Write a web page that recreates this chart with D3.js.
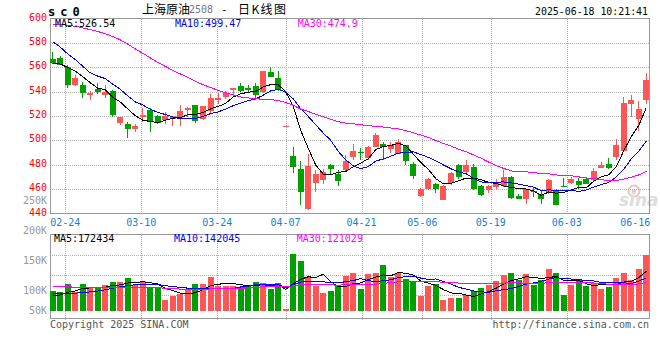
<!DOCTYPE html>
<html><head><meta charset="utf-8">
<script src="https://cdn.jsdelivr.net/npm/d3@7"></script>
<style>body{margin:0;background:#fff}svg{display:block}</style>
</head><body><svg id="c" width="660" height="360"></svg>
<script>
// ---------- data ----------
const dates = ["02-20","02-21","02-24","02-25","02-26","02-27","02-28",
"03-03","03-04","03-05","03-06","03-07","03-10","03-11","03-12","03-13","03-14","03-17","03-18","03-19","03-20","03-21","03-24","03-25","03-26","03-27","03-28","03-31",
"04-01","04-02","04-03","04-07","04-08","04-09","04-10","04-11","04-14","04-15","04-16","04-17","04-18","04-21","04-22","04-23","04-24","04-25","04-28","04-29","04-30",
"05-06","05-07","05-08","05-09","05-12","05-13","05-14","05-15","05-16","05-19","05-20","05-21","05-22","05-23","05-26","05-27","05-28","05-29","05-30",
"06-03","06-04","06-05","06-06","06-09","06-10","06-11","06-12","06-13","06-16","06-17","06-18"];
const open  = [566.7,567.5,560.5,545.5,545.5,537.0,541.8,537.5,540.7,514.4,513.3,509.5,518.8,524.8,519.8,516.6,517.6,517.6,525.0,529.0,
517.2,524.0,533.0,535.2,541.2,544.5,542.6,544.5,540.0,556.1,551.4,511.6,487.0,476.9,443.5,465.2,467.4,479.6,472.3,475.5,
486.5,490.1,485.7,494.7,496.7,492.8,489.0,496.0,480.5,454.5,460.0,464.6,450.9,465.2,480.2,473.7,478.3,462.4,459.1,462.0,
462.7,470.0,454.4,451.5,458.5,456.0,457.0,459.0,462.6,465.1,466.5,467.9,467.4,477.5,481.0,486.0,491.2,529.8,517.5,533.0];
const high  = [572.2,569.2,562.0,553.3,547.8,540.2,546.8,545.4,541.2,519.5,515.0,513.3,526.2,526.2,520.7,523.0,520.0,528.9,527.0,529.2,
528.2,538.0,538.5,540.7,543.2,546.7,545.4,546.7,557.0,559.9,557.1,511.6,494.7,483.2,489.2,476.0,476.9,481.0,475.6,487.8,
496.7,493.9,495.3,505.7,498.8,498.8,500.8,496.5,482.4,461.0,469.2,465.0,463.3,473.7,481.0,484.0,480.5,463.2,463.0,468.7,
476.0,470.5,456.4,460.0,462.0,459.1,468.4,459.7,469.2,470.1,469.2,470.1,477.5,482.1,485.7,501.0,535.3,537.2,532.2,555.0];
const low   = [562.5,561.5,543.2,544.8,535.0,533.1,538.0,535.0,519.4,512.5,501.9,506.7,515.3,506.9,513.8,513.8,511.9,511.9,519.3,514.4,
516.5,522.0,529.5,533.6,535.8,539.8,538.5,533.1,539.1,551.7,540.7,511.6,472.9,446.8,442.7,457.7,463.8,471.4,462.7,474.2,
483.8,483.8,483.8,494.2,483.8,489.8,488.5,479.7,468.2,453.6,459.1,456.9,450.9,463.2,468.0,472.0,459.0,454.2,457.0,460.5,
462.0,451.7,451.5,448.2,453.6,448.2,456.4,446.8,461.9,464.1,460.0,464.1,466.8,477.0,476.8,483.8,490.6,519.3,507.8,529.8];
const close = [563.1,562.0,545.5,551.5,539.0,538.5,539.4,539.4,520.7,519.4,509.5,512.2,520.7,515.8,514.6,519.8,519.8,524.0,526.7,516.0,
527.8,534.4,534.4,538.5,542.6,540.7,541.5,537.1,557.0,552.2,541.2,511.6,478.3,457.8,478.8,472.3,474.2,476.4,466.8,482.9,
491.4,489.3,494.7,504.3,494.7,496.0,498.6,483.2,470.9,460.0,468.2,460.0,462.4,472.9,470.1,480.2,460.0,455.0,462.4,466.0,
470.1,452.8,451.7,459.7,458.0,451.7,467.4,446.8,462.2,468.2,463.2,464.6,474.8,479.7,477.0,496.0,530.8,533.0,525.7,549.5];
const volume = [86000,84000,115000,84000,115000,99000,101000,112000,125000,125000,141000,112000,129000,101000,99000,46000,65000,75000,91000,115000,
115000,147000,108000,108000,108000,102000,111000,124000,119000,94000,121000,7000,246000,216000,147000,106000,78000,85000,110000,151000,
164000,94000,158000,164000,197000,147000,165000,137000,128000,63000,106000,118000,46000,56000,56000,68000,85000,99000,111000,128000,
154000,164000,135000,158000,113000,132000,180000,164000,68000,111000,137000,108000,122000,94000,103000,142000,165000,132000,180000,240000];
// closes / volumes of the 29 sessions before the window (estimated from the MA lines)
const prevClose = [568,572,575,578,582,586,590,594,600,618,626,630,628,625,620,617,613,612,610,610,606,602,598,594,592.5,566,560,566,562.4];
const prevVolume = [118000,125000,132000,120000,110000,128000,135000,122000,115000,108000,126000,130000,119000,112000,124000,117000,121000,113000,125000,120000,
95000,88000,82000,84000,75000,64000,58000,55000,63000];

const priceTicks = [600,580,560,540,520,500,480,460,440];
const volTicks = [250000,200000,150000,100000,50000];
const volTickText = ["250K","200K","150K","100K","50K"];
const dateTicks = ["02-24","03-10","03-24","04-07","04-21","05-06","05-19","06-03","06-16"];
const maPeriods = [5,10,30];
const priceMALabels = ["MA5:526.54","MA10:499.47","MA30:474.9"];
const volMALabels = ["MA5:172434","MA10:142045","MA30:121029"];

// ---------- layout ----------
const svg = d3.select("#c");
const L = 50, R = 649;
const P = {top:18.5, bot:213.5};
const V = {top:234.5, bot:318.5, base:311};
const UP = "#ff5555", DOWN = "#00a000";
const maColors = ["#000000","#0000ff","#ff00ff"];
const mono = "'DejaVu Sans Mono', monospace";

const x = d3.scaleBand().domain(d3.range(dates.length)).range([49.7, 649.4]).paddingInner(0.2).paddingOuter(0);
const bw = x.bandwidth();
const cx = i => x(i) + bw/2;
const gx = d3.scaleLinear().domain([0, dates.length-1]).range([50, 650.4]); // date grid
const y = d3.scaleLinear().domain([440,600]).range([P.bot, P.top]);
const vy = d3.scaleLinear().domain([0,200000]).range([V.base, V.base - 200000/4310]);
const vLab = d3.scaleLinear().domain([100000,250000]).range([290, 200.5]);

// moving averages
function ma(prev, arr, n){
  const full = prev.concat(arr), off = prev.length;
  return arr.map((_,i)=> d3.mean(full.slice(off+i-n+1, off+i+1)));
}
const priceMA = maPeriods.map(n=>ma(prevClose, close, n));
const volMA = maPeriods.map(n=>ma(prevVolume, volume, n));

// ---------- watermark ----------
const wm = svg.append("g").attr("fill","#e3d3d3");
wm.append("circle").attr("cx",634).attr("cy",191).attr("r",5.5).attr("fill","none").attr("stroke","#e8c4c4").attr("stroke-width",2);
wm.append("circle").attr("cx",634).attr("cy",191).attr("r",2).attr("fill","#e8c4c4");
wm.append("text").attr("x",619).attr("y",206).attr("font-family","'DejaVu Sans', sans-serif")
  .attr("font-size",17).attr("font-weight","bold").attr("font-style","italic").attr("fill","#ddd").text("sina");

// ---------- grids ----------
const grid = svg.append("g").attr("stroke","#b0b0b0").attr("stroke-dasharray","1,1").attr("shape-rendering","crispEdges");
priceTicks.filter(t=>t>440 && t<600).forEach(t=>{
  grid.append("line").attr("x1",L).attr("x2",R).attr("y1",Math.round(y(t))+0.5).attr("y2",Math.round(y(t))+0.5);
});
[1,2,3].forEach(k=>{
  const yy = V.top + 21 + (k-1)*20;
  grid.append("line").attr("x1",L).attr("x2",R).attr("y1",yy).attr("y2",yy);
});
dateTicks.forEach(d=>{
  if(d==="06-16") return;
  const xx = Math.round(gx(dates.indexOf(d)))+0.5;
  grid.append("line").attr("x1",xx).attr("x2",xx).attr("y1",P.top).attr("y2",P.bot);
  grid.append("line").attr("x1",xx).attr("x2",xx).attr("y1",V.top).attr("y2",V.bot+2);
});

// ---------- frames ----------
const fr = svg.append("g").attr("fill","none").attr("stroke","#999").attr("shape-rendering","crispEdges");
fr.append("rect").attr("x",L).attr("y",P.top).attr("width",R-L).attr("height",P.bot-P.top);
fr.append("rect").attr("x",L).attr("y",V.top).attr("width",R-L).attr("height",V.bot-V.top);

// ---------- candles ----------
const cg = svg.append("g").attr("shape-rendering","crispEdges");
dates.forEach((d,i)=>{
  const up = close[i] >= open[i];
  const col = up ? UP : DOWN;
  const xc = Math.floor(cx(i)) + 0.5;
  cg.append("line").attr("x1",xc).attr("x2",xc).attr("y1",y(high[i])).attr("y2",y(low[i])).attr("stroke",col);
  const yt = y(Math.max(open[i],close[i])), yb = y(Math.min(open[i],close[i]));
  cg.append("rect").attr("x",Math.round(x(i))).attr("y",yt).attr("width",Math.round(bw)).attr("height",Math.max(1,yb-yt)).attr("fill",col);
  // volume
  cg.append("rect").attr("x",Math.round(x(i))).attr("y",vy(volume[i])).attr("width",Math.round(bw))
    .attr("height",Math.max(1,V.base - vy(volume[i]))).attr("fill",col);
});

// ---------- MA lines ----------
const lg = svg.append("g").attr("fill","none").attr("stroke-width",1).attr("shape-rendering","crispEdges");
priceMA.forEach((s,k)=>{
  lg.append("path").attr("d", d3.line().x((v,i)=>cx(i)).y(v=>y(v))(s)).attr("stroke",maColors[k]);
});
volMA.forEach((s,k)=>{
  lg.append("path").attr("d", d3.line().x((v,i)=>cx(i)).y(v=>vy(v))(s)).attr("stroke",maColors[k]);
});

// ---------- texts ----------
const T = svg.append("g").attr("font-family",mono).attr("font-size",10);
priceTicks.forEach(t=>{
  T.append("text").attr("x",47).attr("y",y(t)+2).attr("text-anchor","end").attr("fill","#ff0000").text(t);
});
volTicks.forEach((t,k)=>{
  T.append("text").attr("x",47).attr("y",Math.min(vLab(t), 310.5)+3.5).attr("text-anchor","end").attr("fill","#999").text(volTickText[k]);
});
dateTicks.forEach(d=>{
  T.append("text").attr("x",gx(dates.indexOf(d))).attr("y",225.5).attr("text-anchor","middle").attr("fill","#1a7fd6").text(d);
});
const maX = [55,175,297.7];
priceMALabels.forEach((s,k)=>T.append("text").attr("x",maX[k]).attr("y",26.5).attr("fill",maColors[k]).text(s));
volMALabels.forEach((s,k)=>T.append("text").attr("x",maX[k]-1).attr("y",242).attr("fill",maColors[k]).text(s));

T.append("text").attr("x",50).attr("y",327.5).attr("fill","#555").text("Copyright 2025 SINA.COM");
T.append("text").attr("x",649).attr("y",327.5).attr("text-anchor","end").attr("fill","#555").text("http://finance.sina.com.cn");
T.append("text").attr("x",648).attr("y",15).attr("text-anchor","end").attr("fill","#000").attr("font-size",11)
  .attr("textLength",113).attr("lengthAdjust","spacingAndGlyphs").text("2025-06-18 10:21:41");
T.append("text").attr("x",48).attr("y",16).attr("font-size",12).attr("font-weight","bold").attr("letter-spacing",5).attr("fill","#000").text("sc0");

const cjk = "'Noto Sans CJK SC', sans-serif";
svg.append("text").attr("x",142).attr("y",14).attr("font-family",cjk).attr("font-size",12).attr("fill","#000").text("上海原油");
svg.append("text").attr("x",189).attr("y",13).attr("font-family",mono).attr("font-size",10).attr("fill","#777").text("2508");
svg.append("text").attr("x",221).attr("y",13).attr("font-family",mono).attr("font-size",11).attr("fill","#000").text("-");
svg.append("text").attr("x",238).attr("y",14).attr("font-family",cjk).attr("font-size",12).attr("fill","#000")
  .attr("textLength",48).attr("lengthAdjust","spacing").text("日K线图");
</script></body></html>
